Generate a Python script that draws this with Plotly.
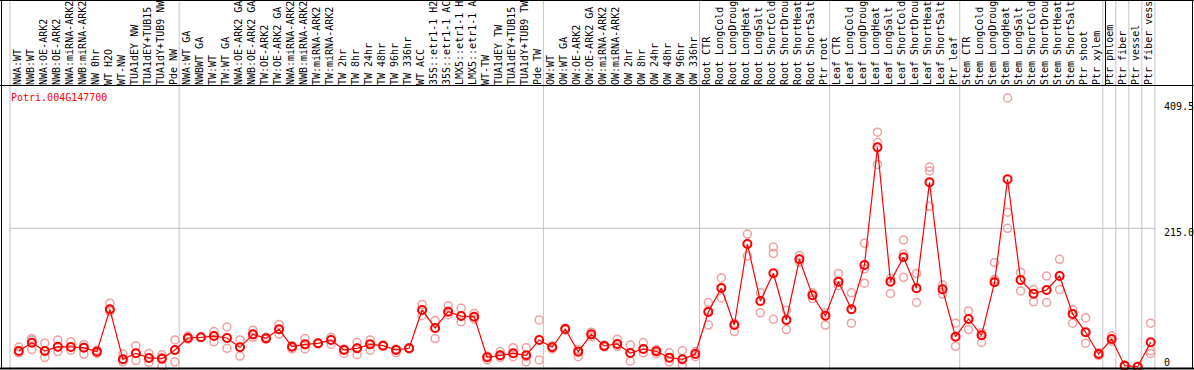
import plotly.graph_objects as go

# ---------------- data ----------------
labels = [
    "NWA:WT", "NWB:WT", "NWA:OE-ARK2", "NWB:OE-ARK2", "NWA:miRNA-ARK2", "NWB:miRNA-ARK2",
    "NW 0hr", "WT H2O", "WT-NW", "TUA1dEY NW", "TUA1dEY+TUB15 NW", "TUA1dY+TUB9 NW", "Pde NW",
    "NWA:WT GA", "NWBWT GA", "TW:WT", "TW:WT GA", "NWA:OE-ARK2 GA", "NWB:OE-ARK2 GA",
    "TW:OE-ARK2", "TW:OE-ARK2 GA", "NWA:miRNA-ARK2 GA", "NWB:miRNA-ARK2 GA", "TW:miRNA-ARK2",
    "TW:miRNA-ARK2 GA", "TW 2hr", "TW 8hr", "TW 24hr", "TW 48hr", "TW 96hr", "TW 336hr",
    "WT ACC", "35S::etr1-1 H2O", "35S::etr1-1 ACC", "LMX5::etr1-1 H2O", "LMX5::etr1-1 ACC",
    "WT-TW", "TUA1dEY TW", "TUA1dEY+TUB15 TW", "TUA1dY+TUB9 TW", "Pde TW",
    "OW:WT", "OW:WT GA", "OW:OE-ARK2", "OW:OE-ARK2 GA", "OW:miRNA-ARK2", "OW:miRNA-ARK2 GA",
    "OW 2hr", "OW 8hr", "OW 24hr", "OW 48hr", "OW 96hr", "OW 336hr",
    "Root CTR", "Root LongCold", "Root LongDrought", "Root LongHeat", "Root LongSalt",
    "Root ShortCold", "Root ShortDrought", "Root ShortHeat", "Root ShortSalt", "Ptr root",
    "Leaf CTR", "Leaf LongCold", "Leaf LongDrought", "Leaf LongHeat", "Leaf LongSalt",
    "Leaf ShortCold", "Leaf ShortDrought", "Leaf ShortHeat", "Leaf ShortSalt", "Ptr leaf",
    "Stem CTR", "Stem LongCold", "Stem LongDrought", "Stem LongHeat", "Stem LongSalt",
    "Stem ShortCold", "Stem ShortDrought", "Stem ShortHeat", "Stem ShortSalt", "Ptr shoot",
    "Ptr xylem", "Ptr phloem", "Ptr fiber", "Ptr vessel", "Ptr fiber vessel",
]

mean_values = [
    24.8, 37.7, 24.8, 31.5, 31.0, 30.0, 23.8, 89.4, 11.9, 21.2, 14.0, 12.9, 26.4,
    45.0, 46.0, 48.0, 45.0, 30.5, 50.6, 44.4, 58.4, 31.5, 35.1, 36.7, 41.9, 26.4, 29.0,
    35.1, 33.0, 26.4, 29.0, 88.4, 60.5, 85.7, 79.0, 78.0, 15.0, 18.1, 21.2, 18.1, 41.9,
    30.5, 58.9, 23.8, 50.6, 32.6, 35.7, 21.7, 27.9, 24.3, 14.5, 11.9, 20.2,
    85.3, 122.5, 65.1, 190.7, 102.3, 145.3, 72.9, 167.0, 111.1, 79.5,
    132.3, 89.4, 158.0, 340.6, 132.3, 170.0, 122.0, 286.3, 120.4, 47.0,
    74.4, 49.1, 131.3, 291.0, 134.9, 113.7, 119.4, 141.1, 82.2, 53.8, 20.2,
    43.4, 2.0, 0.5, 38.3,
]

rep1_values = [
    31, 44, 37, 42, 39, 35, 26, 99, 20, 33, 21, 19, 42,
    48, 46, 55, 62, 42, 57, 46, 66, 33, 44, 37, 46, 21, 38,
    42, 34, 28, 30, 97, 72, 95, 91, 83, 11, 24, 30, 30, 73,
    28, 60, 27, 54, 34, 43, 34, 38, 27, 22, 25, 24,
    100, 138, 68, 206, 115, 186, 88, 173, 115, 84,
    145, 115, 192, 364, 137, 197, 145, 310, 127, 68,
    87, 53, 162, 417, 147, 120, 141, 167, 89, 76, 22,
    48, 3, 1, 68,
]

rep2_values = [
    25, 42, 15, 24, 26, 20, 21, 89, 8, 10, 7, 1, 8,
    43, 46, 39, 29, 17, 46, 43, 51, 28, 28, 36, 35, 28, 19,
    26, 32, 22, 28, 80, 44, 81, 70, 74, 17, 15, 16, 8, 11,
    33, 57, 16, 47, 31, 32, 9, 22, 21, 8, 3, 16,
    65, 107, 55, 172, 84, 176, 58, 162, 106, 65,
    126, 68, 130, 348, 114, 175, 100, 304, 113, 32,
    58, 38, 136, 240, 118, 101, 100, 120, 68, 37, 18,
    40, 1, 0, 25,
]

rep3_values = [
    22, 27, 25, 31, 31, 30, 24, 86, 12, 21, 14, 15, 26,
    45, 46, 48, 45, 31, 50, 44, 58, 31, 35, 37, 42, 26, 29,
    35, 33, 26, 29, 88, 60, 86, 79, 78, 15, 18, 21, 16, 42,
    30, 59, 24, 50, 33, 36, 22, 28, 24, 14, 12, 20,
    88, 122, 66, 191, 102, 74, 73, 167, 111, 80,
    132, 89, 152, 314, 132, 139, 122, 249, 120, 47,
    74, 49, 134, 215, 135, 114, 119, 141, 82, 54, 20,
    43, 2, 0.5, 21,
]

group_starts = [0, 13, 41, 53, 63, 73, 84, 85, 86, 87, 88]
y_ticks = [409.5, 215.0, 0]
y_tick_text = ["409.5", "215.0", "0"]
gene_id = "Potri.004G147700"

# ---------------- geometry / style ----------------
W, H = 1194, 370
COL_W = 13.01          # pixel width of one column
FIRST_PT = 18.8        # pixel x of first data point
COL_EDGE = 10.0        # pixel x of left edge of first column
LABEL_PX = 17.3        # pixel x of first label
HEADER_Y = 86          # pixel y of plot-area top
ZERO_PX = 367.0        # pixel y of value 0
PX_PER_UNIT = 0.6451

x_r0 = -FIRST_PT / COL_W
x_r1 = x_r0 + W / COL_W
edge_off = (COL_EDGE - FIRST_PT) / COL_W
label_off = (LABEL_PX - FIRST_PT) / COL_W

y_r0 = -(H - ZERO_PX) / PX_PER_UNIT
y_r1 = y_r0 + (H - HEADER_Y) / PX_PER_UNIT

FONT = "DejaVu Sans Mono"
idx = list(range(len(labels)))

def px(xp):
    return xp / W

def py(yp):
    return 1 - yp / H

fig = go.Figure()

rep_color = "#F0A0A0"
for reps in (rep1_values, rep2_values, rep3_values):
    fig.add_trace(go.Scatter(
        x=idx, y=reps, mode="markers",
        marker=dict(symbol="circle-open", size=8, color=rep_color, line=dict(width=1.5)),
        hoverinfo="skip", showlegend=False,
    ))

fig.add_trace(go.Scatter(
    x=idx, y=mean_values, mode="lines+markers",
    line=dict(color="#FF0000", width=1.2),
    marker=dict(symbol="circle-open", size=8, color="#FF0000", line=dict(width=2)),
    showlegend=False,
))

# invisible trace carrying the header label axis
fig.add_trace(go.Scatter(
    x=[i + label_off for i in idx], y=mean_values, xaxis="x2", mode="markers",
    marker=dict(opacity=0), hoverinfo="skip", showlegend=False,
))

shapes = []
grid_c = "#C4C4C4"
for k in group_starts:
    shapes.append(dict(type="line", xref="x", yref="paper", x0=k + edge_off, x1=k + edge_off,
                       y0=0, y1=1, line=dict(color=grid_c, width=1), layer="below"))
# horizontal gridline at 215
shapes.append(dict(type="line", xref="paper", yref="y", x0=px(COL_EDGE), x1=px(1156),
                   y0=y_ticks[1], y1=y_ticks[1], line=dict(color=grid_c, width=1), layer="below"))
# header separator
shapes.append(dict(type="line", xref="paper", yref="paper", x0=0, x1=1,
                   y0=py(85.5), y1=py(85.5), line=dict(color="black", width=1)))
# header divider between xylem and phloem
shapes.append(dict(type="line", xref="paper", yref="paper", x0=px(1105.5), x1=px(1105.5),
                   y0=py(85.5), y1=1, line=dict(color="black", width=1)))
# frame
shapes.append(dict(type="line", xref="paper", yref="paper", x0=px(1.5), x1=px(1.5),
                   y0=py(368.5), y1=1, line=dict(color="black", width=1)))
shapes.append(dict(type="line", xref="paper", yref="paper", x0=px(1192.5), x1=px(1192.5),
                   y0=py(368.5), y1=1, line=dict(color="black", width=1)))
shapes.append(dict(type="line", xref="paper", yref="paper", x0=0, x1=1,
                   y0=py(368.5), y1=py(368.5), line=dict(color="black", width=2)))
shapes.append(dict(type="line", xref="paper", yref="paper", x0=0, x1=1,
                   y0=py(0.5), y1=py(0.5), line=dict(color="black", width=1)))

annotations = [dict(text=gene_id, xref="paper", yref="paper", x=px(9), y=py(97),
                    xanchor="left", yanchor="middle", showarrow=False,
                    font=dict(family=FONT, size=10, color="#FF0000"))]
shifts = [-4, -4, 5]
for v, t, s in zip(y_ticks, y_tick_text, shifts):
    annotations.append(dict(text=t, xref="paper", yref="y", x=px(1162), y=v, yshift=s,
                            xanchor="left", yanchor="middle", showarrow=False,
                            font=dict(family=FONT, size=10, color="black")))

fig.update_layout(
    width=W, height=H, margin=dict(l=0, r=0, t=0, b=0, pad=0),
    template="none", paper_bgcolor="white", plot_bgcolor="white",
    showlegend=False, font=dict(family=FONT, size=10, color="black"),
    xaxis=dict(domain=[0, 1], range=[x_r0, x_r1], showgrid=False, zeroline=False,
               showticklabels=False, showline=False, ticks="", automargin=False),
    xaxis2=dict(overlaying="x", side="top", anchor="y", range=[x_r0, x_r1],
                tickmode="array", tickvals=[i + label_off for i in idx], ticktext=labels,
                tickangle=-90, tickfont=dict(family=FONT, size=10, color="black"),
                showgrid=False, zeroline=False, showline=False, ticks="", automargin=False),
    yaxis=dict(domain=[0, (H - HEADER_Y) / H], range=[y_r0, y_r1], showgrid=False,
               zeroline=False, showticklabels=False, showline=False, ticks="", automargin=False),
    shapes=shapes, annotations=annotations,
)

fig.write_html(
    "out.html",
    config={"displayModeBar": False},
    post_script="document.body.style.margin='0';document.body.style.overflow='hidden';",
)
